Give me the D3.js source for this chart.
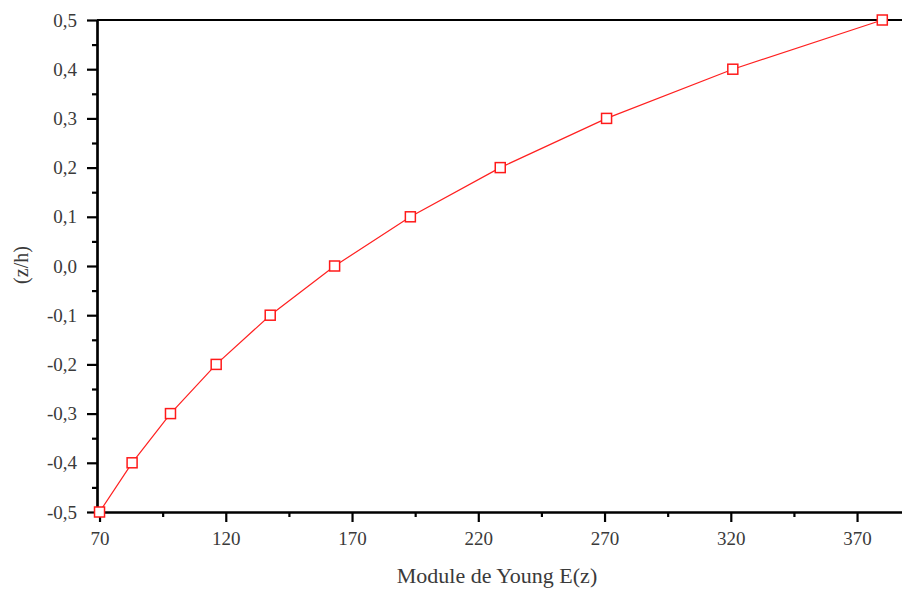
<!DOCTYPE html>
<html>
<head>
<meta charset="utf-8">
<script src="https://cdn.jsdelivr.net/npm/d3@7"></script>
<style>
  body { margin: 0; background: #fff; }
  text { font-family: "Liberation Serif", "Times New Roman", serif; fill: #3a3a3a; }
</style>
</head>
<body>
<svg id="chart" width="902" height="590"></svg>
<script>
// data
const zh = [-0.5, -0.4, -0.3, -0.2, -0.1, 0.0, 0.1, 0.2, 0.3, 0.4, 0.5];
const young = [70, 82.9, 98.1, 116.2, 137.6, 163.1, 193.1, 228.7, 270.8, 320.8, 380];
const xTicks = [70, 120, 170, 220, 270, 320, 370];
const yTicks = [-0.5, -0.4, -0.3, -0.2, -0.1, 0.0, 0.1, 0.2, 0.3, 0.4, 0.5];

const svg = d3.select("#chart");

var x = d3.scaleLinear().domain([69, 387.8]).range([97, 902]);
var y = d3.scaleLinear().domain([-0.5, 0.5]).range([512, 20]);

var fmtY = d => d3.format(".1f")(d).replace(".", ",").replace("−", "-");

// minor ticks
var xMinor = d3.range(95, 400, 50);
var yMinor = d3.range(-0.45, 0.5, 0.1);

svg.append("g")
    .attr("transform", "translate(0,512)")
    .call(d3.axisBottom(x).tickValues(xTicks).tickSize(10).tickSizeOuter(0).tickPadding(10));
svg.append("g")
    .attr("transform", "translate(0,512)")
    .call(d3.axisBottom(x).tickValues(xMinor).tickSize(5).tickSizeOuter(0).tickFormat(""));

svg.append("g")
    .attr("transform", "translate(97,0)")
    .call(d3.axisLeft(y).tickValues(yTicks).tickSize(10).tickSizeOuter(0).tickPadding(10).tickFormat(fmtY));
svg.append("g")
    .attr("transform", "translate(97,0)")
    .call(d3.axisLeft(y).tickValues(yMinor).tickSize(5).tickSizeOuter(0).tickFormat(""));

// top border
svg.append("line")
    .attr("x1", 97).attr("x2", 902)
    .attr("y1", 20).attr("y2", 20)
    .attr("stroke", "#000").attr("stroke-width", 2.2);

svg.selectAll(".domain").attr("stroke", "#000").attr("stroke-width", 2.2);
svg.selectAll(".tick line").attr("stroke", "#000").attr("stroke-width", 2.2);
svg.selectAll(".tick text")
    .attr("font-size", 19)
    .attr("fill", "#3a3a3a")
    .style("font-family", "Liberation Serif");

// curve
var line = d3.line()
    .x((d, i) => x(young[i]))
    .y(d => y(d));

svg.append("path")
    .datum(zh)
    .attr("d", line)
    .attr("fill", "none")
    .attr("stroke", "#ff2020")
    .attr("stroke-width", 1.2);

svg.selectAll(".pt")
    .data(zh)
    .enter()
    .append("rect")
    .attr("class", "pt")
    .attr("x", (d, i) => x(young[i]) - 5)
    .attr("y", d => y(d) - 5)
    .attr("width", 10)
    .attr("height", 10)
    .attr("fill", "#fff")
    .attr("stroke", "#ff1a1a")
    .attr("stroke-width", 1.5);

// axis titles
svg.append("text")
    .attr("x", 497)
    .attr("y", 583)
    .attr("text-anchor", "middle")
    .attr("font-size", 22)
    .text("Module de Young E(z)");

svg.append("text")
    .attr("transform", "translate(28,265) rotate(-90)")
    .attr("text-anchor", "middle")
    .attr("font-size", 20)
    .text("(z/h)");
</script>
</body>
</html>
